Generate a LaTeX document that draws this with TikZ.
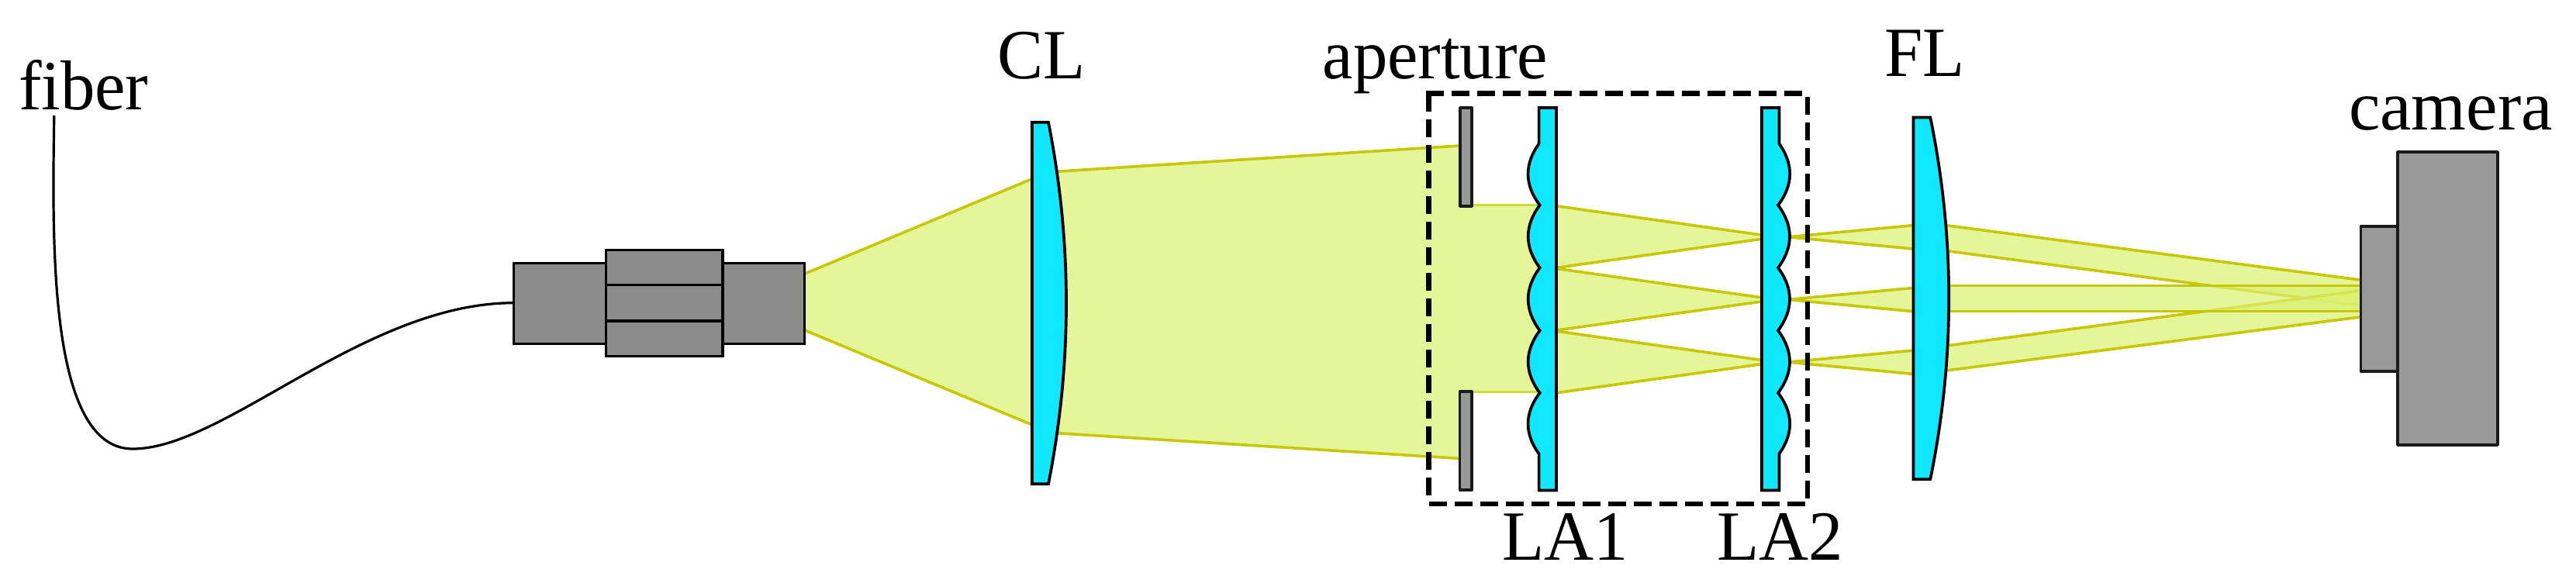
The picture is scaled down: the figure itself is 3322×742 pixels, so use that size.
\documentclass[tikz,border=0pt]{standalone}
\usepackage{fontspec}
\setmainfont[FakeStretch=0.975]{Liberation Serif}
\newfontfamily\camfont{Liberation Serif}
\definecolor{beamline}{RGB}{200,200,0}
\definecolor{beamfill}{RGB}{219,241,112}
\definecolor{lenscyan}{RGB}{15,232,255}
\definecolor{grayA}{RGB}{140,140,140}
\definecolor{grayB}{RGB}{153,153,153}
\definecolor{edgeB}{RGB}{26,26,26}
\definecolor{softline}{RGB}{205,220,50}
\tikzset{
  x=1pt,y=-1pt,
  beam/.style={fill=beamfill,fill opacity=.7,draw=none},
  ray/.style={draw=beamline,line width=3.6pt},
  softray/.style={draw=softline,line width=3pt},
  lens/.style={draw=black,fill=lenscyan,line width=3.7pt,line join=miter},
  conn/.style={draw=black,fill=grayA,line width=3.5pt},
  housing/.style={draw=edgeB,fill=grayB,line width=3.6pt,line join=round},
  dashbox/.style={draw=black,line width=6.4pt,dash pattern=on 23pt off 10pt},
  lab/.style={anchor=base west,inner sep=0pt,outer sep=0pt,font=\fontsize{91}{91}\selectfont},
}
% lens array: #1 = flat x, #2 = body edge x, #3 = bump control x, #4 = cusp x
\newcommand{\arrayshape}[4]{
  (#1,139) -- (#2,139) -- (#2,185.4)
  .. controls (#3,211.8) and (#3,238.2) .. (#4,264.6)
  .. controls (#3,291.5) and (#3,318.5) .. (#4,345.4)
  .. controls (#3,372.4) and (#3,399.4) .. (#4,426.4)
  .. controls (#3,453.2) and (#3,480) .. (#4,506.8)
  .. controls (#3,533) and (#3,559.2) .. (#2,585.4)
  -- (#2,632.5) -- (#1,632.5) -- cycle
}
\begin{document}
\begin{tikzpicture}
\useasboundingbox (0,0) rectangle (3322,742);
\fill[white] (0,0) rectangle (3322,742);
% labels
\node[lab] (fiberlab) at (24,141) {fiber};
\node[lab] (cllab) at (1286,101) {CL};
\node[lab] (aplab) at (1705.6,101) {aperture};
\node[lab] (fllab) at (2430,98) {FL};
\node[lab] (la1lab) at (1937.6,722.3) {LA1};
\node[lab] (la2lab) at (2214,722.3) {LA2};
\node[lab] (camlab) at (3029,167.5) {\camfont camera};
% beams: source to CL
\fill[beam] (1038,353) -- (1335,230.7) -- (1335,548) -- (1038,426) -- cycle;
\draw[ray] (1038,353) -- (1331,230.7);
\draw[ray] (1038,426) -- (1331,548);
% CL to aperture
\fill[beam] (1360,221) -- (1884,188) -- (1884,264.6) -- (1990,264.6) -- (1990,505) -- (1884,505) -- (1884,591.4) -- (1360,558.8) -- cycle;
\draw[ray] (1362,221.3) -- (1882,188);
\draw[ray] (1362,558.6) -- (1882,591.4);
\draw[softray] (1896,264.6) -- (1985,264.6);
\draw[softray] (1896,505) -- (1985,505);
% lenslet to LA2
\foreach \d in {0,80.7,161.4}{
  \fill[beam,yshift=-\d pt] (2006,265.7) -- (2290,305.7) -- (2006,345.4) -- cycle;
  \draw[ray,yshift=-\d pt] (2007,265.7) -- (2290,305.7) -- (2007,345.4);
  \fill[beam,yshift=-\d pt] (2306,305.7) -- (2470,290.7) -- (2470,321) -- cycle;
  \draw[ray,yshift=-\d pt] (2467,290.7) -- (2306,305.7) -- (2467,321);
}
% FL to camera
\fill[beam] (2510,290.7) -- (3046,361.4) -- (3046,394.3) -- (2510,323.6) -- cycle;
\draw[ray] (2510,290.7) -- (3046,361.4);
\draw[ray] (2510,323.6) -- (3046,394.3);
\fill[beam] (2510,446) -- (3046,374.6) -- (3046,408.6) -- (2510,478) -- cycle;
\draw[ray] (2510,446) -- (3046,374.6);
\draw[ray] (2510,478) -- (3046,408.6);
\fill[beam] (2510,368.6) -- (3046,368.6) -- (3046,401.4) -- (2510,401.4) -- cycle;
\draw[ray] (2510,368.6) -- (3046,368.6);
\draw[ray] (2510,401.4) -- (3046,401.4);
% connector
\draw[conn] (662.6,339.3) rectangle (781.5,443.3);
\draw[conn] (932,339.3) rectangle (1037.7,443.3);
\draw[conn] (781.5,322.3) rectangle (932,367.7);
\draw[conn] (781.5,367.7) rectangle (932,414);
\draw[conn] (781.5,414) rectangle (932,459.3);
% fiber
\coordinate (fibertop) at (69.8,149);
\coordinate (fiberend) at (662.6,390.7);
\draw[line width=3.2pt] (fibertop) .. controls (68,300) and (60,579) .. (171,579)
  .. controls (290,579) and (470,390.7) .. (fiberend);
% lenses
\draw[lens] (1331,157.7) -- (1352,157.7) .. controls (1382.7,313.2) and (1382.7,468.8) .. (1352,624.3) -- (1331,624.3) -- cycle;
\draw[lens] (2467.4,151.4) -- (2489.3,151.4) .. controls (2521.2,307) and (2521.2,462.6) .. (2489.3,618.2) -- (2467.4,618.2) -- cycle;
\draw[lens] \arrayshape{2007}{1984.6}{1965.7}{1985.7};
\draw[lens] \arrayshape{2272}{2294.4}{2313}{2293};
% aperture
\draw[housing] (1882.9,139) rectangle (1898.2,265.7);
\draw[housing] (1882.4,505) rectangle (1898.2,631.8);
% camera
\draw[housing] (3044.5,291.8) rectangle (3092,479);
\draw[housing] (3092,196) rectangle (3221,574);
% dashed box
\draw[dashbox] (1839.3,120.4) -- (2325,120.4);
\draw[dashbox] (1842.5,121) -- (1842.5,639);
\draw[dashbox] (1843,650) -- (2328,650);
\draw[dashbox] (2331,124.7) -- (2331,642.7);
\end{tikzpicture}
\end{document}
